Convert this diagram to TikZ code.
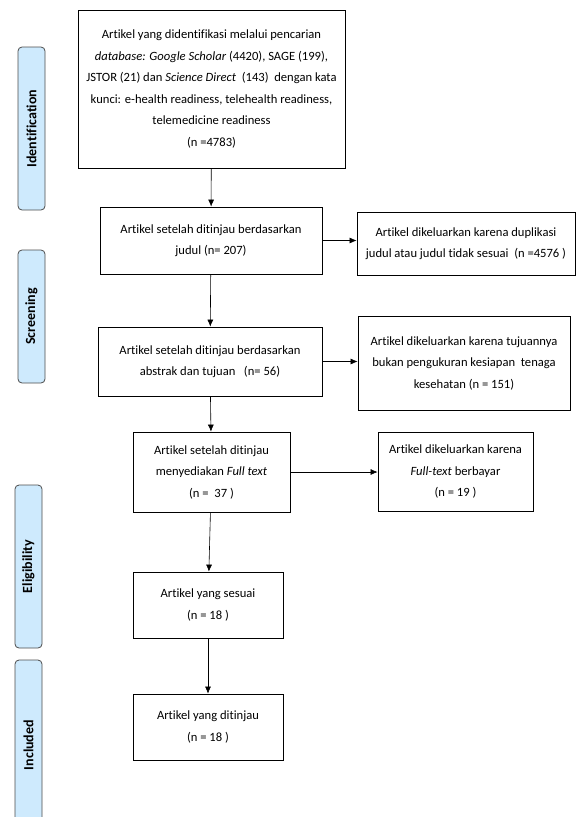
\documentclass[tikz,border=0pt]{standalone}
\usepackage{fontspec}
\setmainfont{Carlito}[Ligatures=NoCommon]
\usetikzlibrary{arrows.meta}

\definecolor{stagefill}{RGB}{206,234,253}

\tikzset{
  box/.style = {draw, thick, align=center, inner sep=2pt,
    font=\fontsize{12.6}{21.5}\selectfont},
  stage/.style = {draw=black!70, thick, fill=stagefill, rounded corners=4pt,
    rotate=90, font=\fontsize{14}{16}\selectfont\bfseries, inner sep=0pt},
  flow/.style = {-{Latex[length=7pt,width=6pt]}, semithick}
}

\begin{document}
\begin{tikzpicture}[x=1pt, y=-1pt]
\useasboundingbox (0,0) rectangle (579,817);

% stages
\node[stage, minimum width=163, minimum height=27] (ident) at (31.5,128.5) {Identification};
\node[stage, minimum width=133, minimum height=27] (screen) at (31.5,316.5) {Screening};
\node[stage, minimum width=163, minimum height=27] (elig) at (28.5,566.5) {Eligibility};
\node[stage, minimum width=170, minimum height=27] (incl) at (28.5,745) {Included};

% main column
\node[box, minimum width=267, minimum height=158] (top) at (211.5,89)
  {Artikel yang didentifikasi melalui pencarian\\
   \textit{database: Google Scholar} (4420), SAGE (199),\\
   JSTOR (21) dan \textit{Science Direct}~ (143)~ dengan kata\\
   kunci: e-health readiness, telehealth readiness,\\
   telemedicine readiness\\
   (n =4783)};
\node[box, minimum width=222, minimum height=67] (judul) at (211,240.5)
  {Artikel setelah ditinjau berdasarkan\\ judul (n= 207)};
\node[box, minimum width=224, minimum height=69] (abstrak) at (210,361.5)
  {Artikel setelah ditinjau berdasarkan\\ abstrak dan tujuan~~ (n= 56)};
\node[box, minimum width=157, minimum height=80] (full) at (211.5,472)
  {Artikel setelah ditinjau\\ menyediakan \textit{Full text}\\ (n =~ 37 )};
\node[box, minimum width=150, minimum height=66] (sesuai) at (208,605)
  {Artikel yang sesuai\\ (n = 18 )};
\node[box, minimum width=150, minimum height=66] (tinjau) at (208,727)
  {Artikel yang ditinjau\\ (n = 18 )};

% excluded
\node[box, minimum width=218, minimum height=63] (dup) at (466,243.5)
  {Artikel dikeluarkan karena duplikasi\\ judul atau judul tidak sesuai~ (n =4576 )};
\node[box, minimum width=212, minimum height=94] (tujuan) at (464,363)
  {Artikel dikeluarkan karena tujuannya\\ bukan pengukuran kesiapan~ tenaga\\ kesehatan (n = 151)};
\node[box, minimum width=155, minimum height=79] (bayar) at (455.5,471.5)
  {Artikel dikeluarkan karena\\ \textit{Full-text} berbayar\\ (n = 19 )};

\draw[flow] (top) -- (judul);
\draw[flow] (judul) -- (abstrak);
\draw[flow] (abstrak) -- (full);
\draw[flow] (full) -- (sesuai);
\draw[flow] (sesuai) -- (tinjau);
\draw[flow] (judul.east) -- (judul.east -| dup.west);
\draw[flow] (abstrak.east) -- (abstrak.east -| tujuan.west);
\draw[flow] (full.east) -- (full.east -| bayar.west);
\end{tikzpicture}
\end{document}
